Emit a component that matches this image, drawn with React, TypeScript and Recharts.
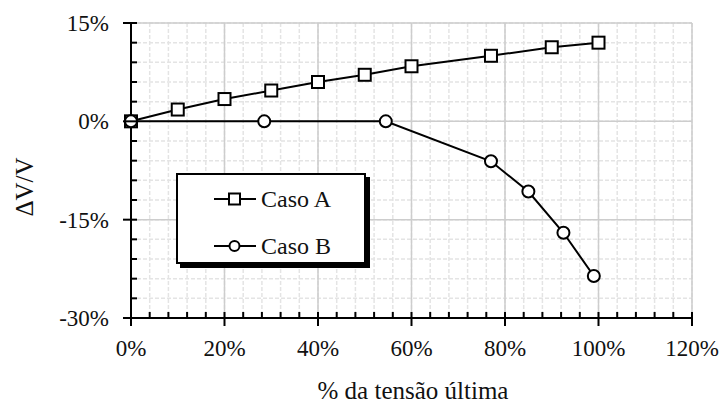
import { LineChart, Line, XAxis, YAxis, CartesianGrid, Label } from "recharts";

const caseAX = [0, 10, 20, 30, 40, 50, 60, 77, 90, 100];
const caseAY = [0, 1.8, 3.4, 4.7, 6.0, 7.1, 8.4, 10.0, 11.3, 12.0];
const caseBX = [0, 28.5, 54.5, 77, 85, 92.5, 99];
const caseBY = [0, 0, 0, -6.1, -10.7, -17.0, -23.6];

const xTicks = [0, 4, 8, 12, 16, 20, 24, 28, 32, 36, 40, 44, 48, 52, 56, 60, 64, 68, 72, 76, 80, 84, 88, 92, 96, 100, 104, 108, 112, 116, 120];
const yTicks = [-30, -27, -24, -21, -18, -15, -12, -9, -6, -3, 0, 3, 6, 9, 12, 15];
const xMajor = [0, 20, 40, 60, 80, 100, 120];
const yMajor = [-30, -15, 0, 15];

const seriesA = caseAX.map((x, i) => ({ x, y: caseAY[i] }));
const seriesB = caseBX.map((x, i) => ({ x, y: caseBY[i] }));

const FONT = "Liberation Serif";

const XTick = (props: any) => {
  const { x, y, payload } = props;
  const major = xMajor.includes(payload.value);
  return (
    <g>
      <line x1={x} x2={x} y1={y - 6} y2={major ? y + 8 : y} stroke="#000" strokeWidth={2} />
      {major && (
        <text x={x} y={y + 38} textAnchor="middle" fontFamily={FONT} fontSize={23} fill="#111">
          {payload.value}%
        </text>
      )}
    </g>
  );
};

const YTick = (props: any) => {
  const { x, y, payload } = props;
  const major = yMajor.includes(payload.value);
  return (
    <g>
      <line x1={major ? x - 8 : x} x2={x + 6} y1={y} y2={y} stroke="#000" strokeWidth={2} />
      {major && (
        <text x={x - 22} y={y + 8} textAnchor="end" fontFamily={FONT} fontSize={23} fill="#111">
          {payload.value}%
        </text>
      )}
    </g>
  );
};

const SquareDot = (props: any) => {
  const { cx, cy, index } = props;
  return <rect key={index} x={cx - 6} y={cy - 6} width={12} height={12} fill="#fff" stroke="#000" strokeWidth={2} />;
};

const CircleDot = (props: any) => {
  const { cx, cy, index } = props;
  return <circle key={index} cx={cx} cy={cy} r={6} fill="#fff" stroke="#000" strokeWidth={2} />;
};

const LegendBox = () => (
  <div
    style={{
      position: "absolute",
      left: 176,
      top: 173,
      width: 190,
      height: 91,
      boxSizing: "border-box",
      border: "2px solid #000",
      boxShadow: "4px 4px 0 #000",
      background: "#fff",
      fontFamily: FONT,
      fontSize: 24,
      color: "#111",
    }}
  >
    {[
      { name: "Caso A", top: 24, square: true },
      { name: "Caso B", top: 71, square: false },
    ].map((it) => (
      <div key={it.name} style={{ position: "absolute", left: 35, top: it.top - 14, height: 28, display: "flex", alignItems: "center" }}>
        <svg width={44} height={16} style={{ marginRight: 4 }}>
          <line x1={1} x2={43} y1={8} y2={8} stroke="#000" strokeWidth={2} />
          {it.square ? (
            <rect x={16} y={2.5} width={11} height={11} fill="#fff" stroke="#000" strokeWidth={2} />
          ) : (
            <circle cx={21.5} cy={8} r={5} fill="#fff" stroke="#000" strokeWidth={2} />
          )}
        </svg>
        <span style={{ lineHeight: "28px" }}>{it.name}</span>
      </div>
    ))}
  </div>
);

export default function App() {
  return (
    <div style={{ position: "absolute", left: 0, top: 0, width: 724, height: 403, background: "#fff", fontFamily: FONT }}>
      <LineChart width={724} height={403} margin={{ top: 23, right: 32, bottom: 0, left: 0 }}>
        <CartesianGrid stroke="#e4e4e4" strokeDasharray="4 2" strokeWidth={1.5} />
        <CartesianGrid stroke="#cdcdcd" strokeWidth={1.5} horizontalValues={yMajor} verticalValues={xMajor} />
        <XAxis
          type="number"
          dataKey="x"
          domain={[0, 120]}
          ticks={xTicks}
          interval={0}
          height={85}
          tickSize={0}
          tickMargin={0}
          tick={<XTick />}
          axisLine={{ stroke: "#000", strokeWidth: 2 }}
          allowDuplicatedCategory={false}
        >
          <Label
            content={() => (
              <text x={413} y={399} textAnchor="middle" fontFamily={FONT} fontSize={25} fill="#111">
                % da tensão última
              </text>
            )}
          />
        </XAxis>
        <YAxis
          type="number"
          dataKey="y"
          domain={[-30, 15]}
          ticks={yTicks}
          interval={0}
          width={131}
          tickSize={0}
          tickMargin={0}
          tick={<YTick />}
          axisLine={{ stroke: "#000", strokeWidth: 2 }}
        >
          <Label
            content={() => (
              <text
                x={24}
                y={187}
                transform="rotate(-90 24 187)"
                textAnchor="middle"
                dominantBaseline="central"
                fontFamily={FONT}
                fontSize={25}
                fill="#111"
              >
                ΔV/V
              </text>
            )}
          />
        </YAxis>
        <Line data={seriesA} dataKey="y" name="Caso A" stroke="#000" strokeWidth={2} dot={SquareDot} isAnimationActive={false} />
        <Line data={seriesB} dataKey="y" name="Caso B" stroke="#000" strokeWidth={2} dot={CircleDot} isAnimationActive={false} />
      </LineChart>
      <LegendBox />
    </div>
  );
}
